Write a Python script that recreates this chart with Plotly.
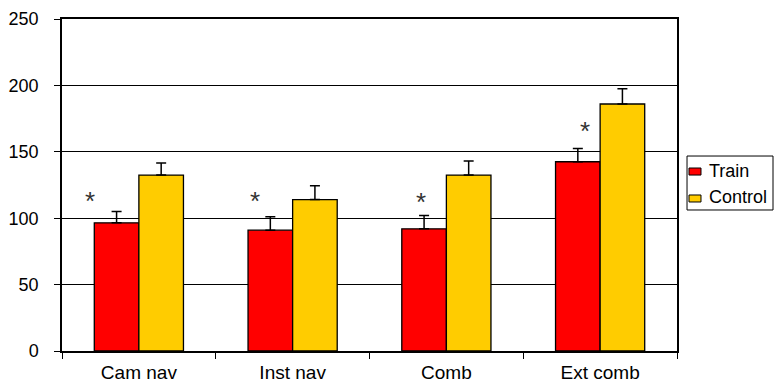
import plotly.graph_objects as go

categories = ["Cam nav", "Inst nav", "Comb", "Ext comb"]
series_names = ["Train", "Control"]
series_colors = ["#FF0000", "#FFCC00"]
train = [96.5, 91, 92, 142.5]
train_err = [8.5, 10, 10, 10]
control = [132.5, 114, 132.5, 186]
control_err = [9, 10.5, 10.5, 11.5]
star_y = [113, 113, 112, 166]
star_shift = [-49, -38, -25, -15]

font = "Liberation Sans, Arial, sans-serif"

fig = go.Figure()
for name, color, vals, errs in zip(series_names, series_colors, [train, control], [train_err, control_err]):
    fig.add_trace(go.Bar(
        name=name, x=categories, y=vals, showlegend=False,
        marker=dict(color=color, line=dict(color="black", width=1.3)),
        error_y=dict(type="data", array=errs, arrayminus=[0] * len(errs), symmetric=False,
                     color="black", thickness=1.5, width=5),
    ))

for c, yv, sh in zip(categories, star_y, star_shift):
    fig.add_annotation(x=c, y=yv, text="*", showarrow=False, xshift=sh,
                       font=dict(family=font, size=26, color="#333333"),
                       yanchor="middle")

# legend drawn as a framed box (small swatches like the original)
fig.add_shape(type="rect", xref="paper", yref="paper", x0=1.0163, x1=1.1561, y0=0.4247, y1=0.5873,
              line=dict(color="black", width=1), fillcolor="white", layer="above")
sw_y = [(0.530, 0.5512), (0.4488, 0.4699)]
txt_y = [0.5422, 0.4639]
for name, color, (y0, y1), ty in zip(series_names, series_colors, sw_y, txt_y):
    fig.add_shape(type="rect", xref="paper", yref="paper", x0=1.0195, x1=1.039, y0=y0, y1=y1,
                  line=dict(color="black", width=1), fillcolor=color, layer="above")
    fig.add_annotation(xref="paper", yref="paper", x=1.0488, y=ty, text=name, showarrow=False,
                       xanchor="left", yanchor="middle",
                       font=dict(family=font, size=18, color="black"))

fig.update_layout(
    width=774, height=392,
    margin=dict(l=62, r=97, t=19, b=41),
    paper_bgcolor="white", plot_bgcolor="white",
    barmode="group", bargap=0.42, bargroupgap=0,
    font=dict(family=font, size=18, color="black"),
    showlegend=False,
)
fig.update_yaxes(range=[0, 250], dtick=50, showgrid=True, gridcolor="black", gridwidth=1,
                 showline=True, linecolor="black", linewidth=1.5, mirror=True,
                 ticks="outside", ticklen=6, tickcolor="black", zeroline=False,
                 ticklabelstandoff=12, automargin=False,
                 tickfont=dict(size=18))
fig.update_xaxes(showline=True, linecolor="black", linewidth=1.5, mirror=True,
                 ticks="outside", ticklen=6, tickcolor="black", tickson="boundaries",
                 ticklabelstandoff=3, automargin=False,
                 tickfont=dict(size=19))

fig.write_html("out.html", config={"displayModeBar": False},
               post_script="document.body.style.margin='0';document.body.style.overflow='hidden';")
